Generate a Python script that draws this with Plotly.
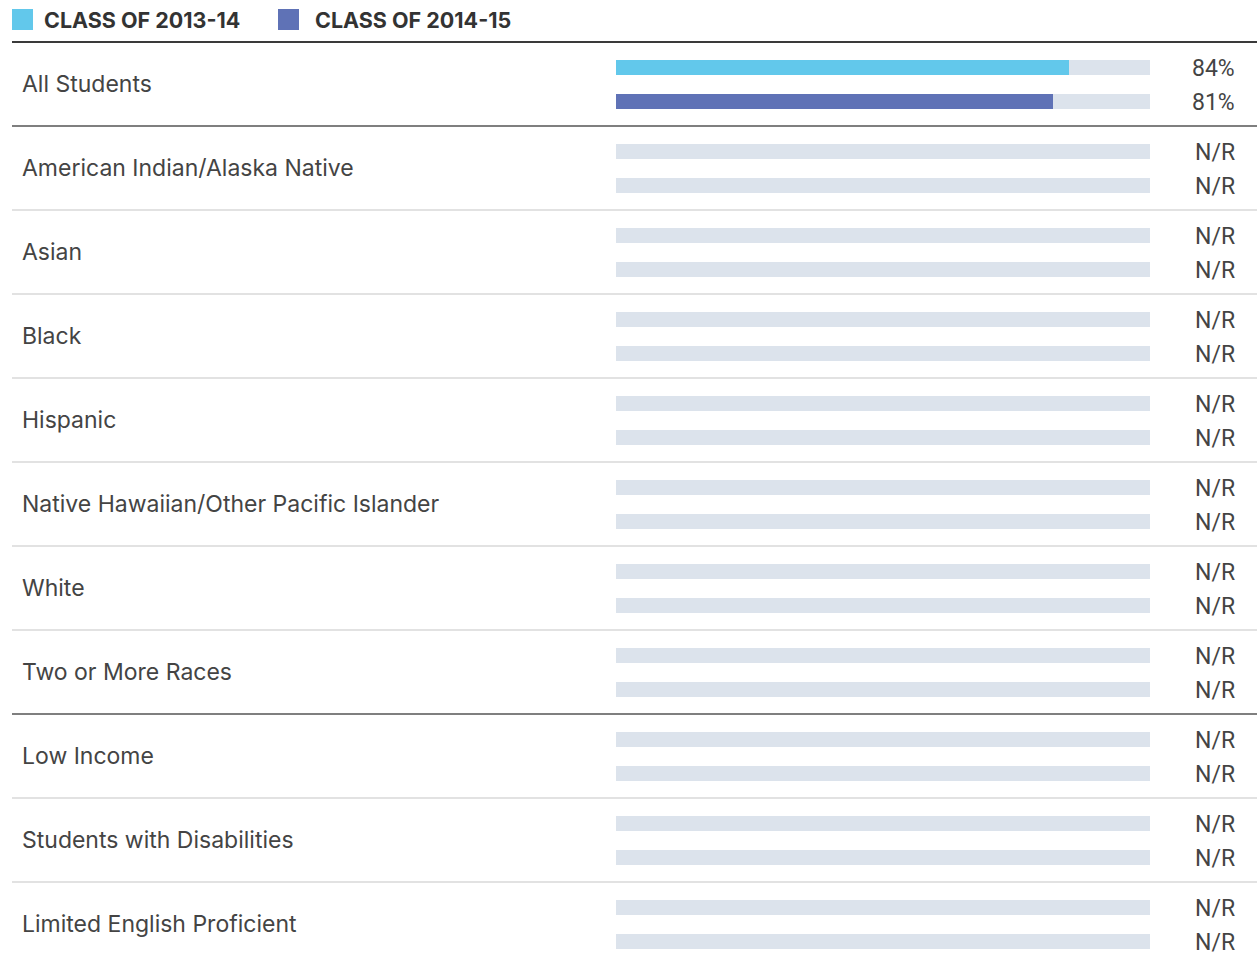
import plotly.graph_objects as go

# ---- data ----
categories = [
    "All Students",
    "American Indian/Alaska Native",
    "Asian",
    "Black",
    "Hispanic",
    "Native Hawaiian/Other Pacific Islander",
    "White",
    "Two or More Races",
    "Low Income",
    "Students with Disabilities",
    "Limited English Proficient",
]
series_names = ["CLASS OF 2013-14", "CLASS OF 2014-15"]
values_2013_14 = [84.9, None, None, None, None, None, None, None, None, None, None]
values_2014_15 = [81.8, None, None, None, None, None, None, None, None, None, None]
track_max = [100] * len(categories)
group_ends = [0, 7]  # rows after which a dark separator is drawn

# ---- layout geometry (reference pixels) ----
PW, PH = 1257, 961
ROW_PX = 84
TOP_PX = 42
X0_PX, X1_PX = 616, 1150
ppu = (X1_PX - X0_PX) / 100.0
x_range = [-X0_PX / ppu, 100 + (PW - X1_PX) / ppu]
y_top = -TOP_PX / ROW_PX - 0.5
y_bot = y_top + PH / ROW_PX


def px(rx):
    return rx / PW


def py(ry):
    return 1 - ry / PH


colors = ["#62c8eb", "#5f72b6"]
track_color = "#dce3ec"
bar_w = 15 / ROW_PX
offsets = [-(17 + 7.5) / ROW_PX, (17 - 7.5) / ROW_PX]

rows = list(range(len(categories)))
fig = go.Figure()

for off in offsets:
    fig.add_trace(go.Bar(
        x=track_max, y=rows, orientation="h", width=bar_w, offset=off,
        marker=dict(color=track_color, line=dict(width=0)),
        hoverinfo="skip", showlegend=False))

for k, (vals, off) in enumerate(zip([values_2013_14, values_2014_15], offsets)):
    fig.add_trace(go.Bar(
        x=[v if v is not None else 0 for v in vals], y=rows, orientation="h",
        width=bar_w, offset=off, name=series_names[k],
        marker=dict(color=colors[k], line=dict(width=0)), showlegend=False))

annotations = []
for i, cat in enumerate(categories):
    annotations.append(dict(
        x=px(20), xref="paper", y=i, yref="y", text=cat, showarrow=False,
        xanchor="left", yanchor="middle",
        font=dict(family="Inter, Roboto, sans-serif", size=23, color="#444444")))
    for vals, off in zip([values_2013_14, values_2014_15], offsets):
        v = vals[i]
        label = f"{int(v)}%" if v is not None else "N/R"
        annotations.append(dict(
            x=px(1237), xref="paper", y=i + off + bar_w / 2 + 1.5 / ROW_PX, yref="y",
            text=label, showarrow=False, xanchor="right", yanchor="middle",
            font=dict(family="Roboto, sans-serif", size=23, color="#444444")))

shapes = []
shapes.append(dict(type="line", xref="paper", yref="y", x0=px(12), x1=1,
                   y0=-0.5, y1=-0.5, line=dict(color="#3a3a3a", width=2)))
for i in range(len(categories) - 1):
    dark = i in group_ends
    shapes.append(dict(type="line", xref="paper", yref="y", x0=px(12), x1=1,
                       y0=i + 0.5, y1=i + 0.5,
                       line=dict(color="#555555" if dark else "#e2e2e2",
                                 width=1.5 if dark else 2)))

# legend
leg_x = [12, 278]
leg_text_x = [42, 313]
for k in range(2):
    shapes.append(dict(type="rect", xref="paper", yref="paper",
                       x0=px(leg_x[k]), x1=px(leg_x[k] + 21),
                       y0=py(30), y1=py(9),
                       fillcolor=colors[k], line=dict(width=0)))
    annotations.append(dict(
        x=px(leg_text_x[k]), xref="paper", y=py(20), yref="paper",
        text=f"<b>{series_names[k]}</b>", showarrow=False,
        xanchor="left", yanchor="middle",
        font=dict(family="Inter, Roboto, sans-serif", size=21.5, color="#333333")))

fig.update_layout(
    width=PW, height=PH, margin=dict(l=0, r=0, t=0, b=0),
    paper_bgcolor="white", plot_bgcolor="white",
    barmode="overlay", bargap=0,
    xaxis=dict(range=x_range, visible=False, fixedrange=True),
    yaxis=dict(range=[y_bot, y_top], visible=False, fixedrange=True),
    shapes=shapes, annotations=annotations,
)

fig.write_html("out.html", config={"displayModeBar": False},
               post_script="document.body.style.margin='0';document.body.style.overflow='hidden';")
